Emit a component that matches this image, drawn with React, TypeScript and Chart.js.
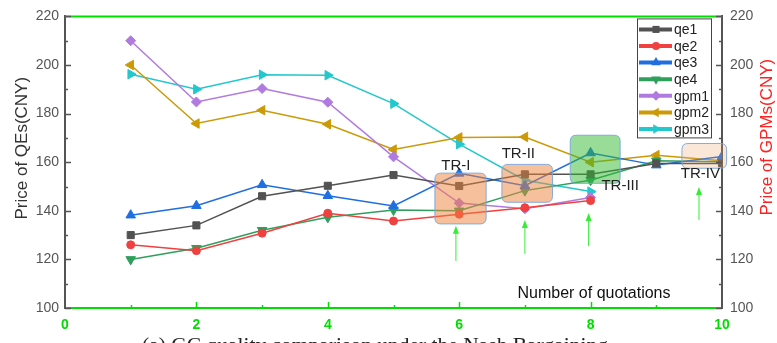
import React, { useEffect, useRef } from 'react';
import { Chart, registerables } from 'chart.js';

Chart.register(...registerables);

// ---------- data ----------
const quotations = [1, 2, 3, 4, 5, 6, 7, 8, 9, 10];
const qe1 = [130, 134, 146, 150.3, 154.7, 150.2, 155, 155, 159.5, 159.5];
const qe2 = [126, 123.6, 130.8, 139, 135.8, 138.6, 141.3, 144.2, null, null];
const qe3 = [138.2, 142.1, 150.7, 146.2, 142, 155.4, 150.3, 163.8, 158.8, 162.3];
const qe4 = [120, 124.6, 132, 137.3, 140.3, 140, 148.3, 152.6, 160.6, 160.2];
const gpm1 = [210, 184.8, 190.3, 184.7, 162.2, 143.2, 140.8, 145.5, null, null];
const gpm2 = [200, 175.9, 181.4, 175.6, 165.2, 170.2, 170.4, 160, 162.9, 160.6];
const gpm3 = [196.2, 190, 196, 195.8, 184.1, 167.4, 152.6, 147.9, null, null];

const seriesNames = ['qe1', 'qe2', 'qe3', 'qe4', 'gpm1', 'gpm2', 'gpm3'];
const seriesData = [qe1, qe2, qe3, qe4, gpm1, gpm2, gpm3];
const seriesColors = ['#525252', '#f04040', '#1f6fe0', '#2ea05c', '#b07ae0', '#cc9a06', '#22c8cc'];
const seriesStyles = ['rect', 'circle', 'triangle', 'triangle', 'rectRot', 'triangle', 'triangle'];
const seriesRotations = [0, 0, 0, 180, 0, 270, 90];
const seriesRadii = [5, 4, 5.5, 5.5, 5, 5.5, 5.5];

const xTickValues = [0, 2, 4, 6, 8, 10];
const yTickValues = [100, 120, 140, 160, 180, 200, 220];

// highlighted regions (data coordinates)
const regionLabels = ['TR-I', 'TR-II', 'TR-III', 'TR-IV'];
const regionX0 = [5.63, 6.65, 7.69, 9.39];
const regionX1 = [6.41, 7.42, 8.45, 10.07];
const regionY0 = [134.6, 143.5, 151.3, 157.5];
const regionY1 = [155.5, 159.1, 171.1, 167.7];
const regionFills = ['rgba(240,130,60,0.5)', 'rgba(240,130,60,0.5)', 'rgba(50,185,50,0.5)', 'rgba(240,160,100,0.25)'];
const regionLabelX = [5.95, 6.9, 8.45, 9.67];
const regionLabelY = [158.4, 163.5, 150.1, 155.1];

// green arrows
const arrowX = [5.95, 7.0, 7.97, 9.65];
const arrowBase = [119.4, 122.3, 125.5, 136.2];
const arrowTip = [133.8, 136.2, 139.1, 149.8];

function drawMarker(ctx: CanvasRenderingContext2D, style: string, x: number, y: number, r: number, rot: number) {
  ctx.save();
  ctx.translate(x, y);
  ctx.rotate((rot * Math.PI) / 180);
  ctx.beginPath();
  if (style === 'circle') {
    ctx.arc(0, 0, r, 0, Math.PI * 2);
  } else if (style === 'rect') {
    const s = r * Math.SQRT1_2;
    ctx.rect(-s, -s, 2 * s, 2 * s);
  } else if (style === 'rectRot') {
    ctx.moveTo(0, -r);
    ctx.lineTo(r, 0);
    ctx.lineTo(0, r);
    ctx.lineTo(-r, 0);
    ctx.closePath();
  } else {
    for (let i = 0; i < 3; i++) {
      const a = (i * 2 * Math.PI) / 3;
      const px = Math.sin(a) * r;
      const py = -Math.cos(a) * r;
      if (i === 0) ctx.moveTo(px, py);
      else ctx.lineTo(px, py);
    }
    ctx.closePath();
  }
  ctx.fill();
  ctx.restore();
}

function roundRect(ctx: CanvasRenderingContext2D, x: number, y: number, w: number, h: number, r: number) {
  ctx.beginPath();
  ctx.moveTo(x + r, y);
  ctx.lineTo(x + w - r, y);
  ctx.quadraticCurveTo(x + w, y, x + w, y + r);
  ctx.lineTo(x + w, y + h - r);
  ctx.quadraticCurveTo(x + w, y + h, x + w - r, y + h);
  ctx.lineTo(x + r, y + h);
  ctx.quadraticCurveTo(x, y + h, x, y + h - r);
  ctx.lineTo(x, y + r);
  ctx.quadraticCurveTo(x, y, x + r, y);
  ctx.closePath();
}

const FONT = '"Liberation Sans", Arial, sans-serif';
const GREEN = '#00dd00';
const AXIS = '#555555';

const decor = {
  id: 'decor',
  afterDatasetsDraw(chart: any) {
    const { ctx, chartArea: a, scales } = chart;
    const x = scales.x;
    const y = scales.y;
    ctx.save();
    // regions
    for (let i = 0; i < regionLabels.length; i++) {
      const px0 = x.getPixelForValue(regionX0[i]);
      const px1 = x.getPixelForValue(regionX1[i]);
      const py0 = y.getPixelForValue(regionY1[i]);
      const py1 = y.getPixelForValue(regionY0[i]);
      roundRect(ctx, px0, py0, px1 - px0, py1 - py0, 6);
      ctx.fillStyle = regionFills[i];
      ctx.fill();
      ctx.strokeStyle = 'rgba(120,165,220,0.9)';
      ctx.lineWidth = 1;
      ctx.stroke();
    }
    ctx.fillStyle = '#222';
    ctx.font = '15px ' + FONT;
    ctx.textAlign = 'center';
    ctx.textBaseline = 'middle';
    for (let i = 0; i < regionLabels.length; i++) {
      ctx.fillText(regionLabels[i], x.getPixelForValue(regionLabelX[i]), y.getPixelForValue(regionLabelY[i]));
    }
    // arrows
    ctx.strokeStyle = '#33ee33';
    ctx.fillStyle = '#33ee33';
    ctx.lineWidth = 1;
    for (let i = 0; i < arrowX.length; i++) {
      const px = x.getPixelForValue(arrowX[i]);
      const pb = y.getPixelForValue(arrowBase[i]);
      const pt = y.getPixelForValue(arrowTip[i]);
      ctx.beginPath();
      ctx.moveTo(px, pb);
      ctx.lineTo(px, pt + 6);
      ctx.stroke();
      ctx.beginPath();
      ctx.moveTo(px, pt);
      ctx.lineTo(px - 3, pt + 8);
      ctx.lineTo(px + 3, pt + 8);
      ctx.closePath();
      ctx.fill();
    }
    // legend
    const lx = a.right - 85;
    const ly = a.top + 2;
    const lw = 74;
    const lh = 119;
    ctx.fillStyle = '#fff';
    ctx.fillRect(lx, ly, lw, lh);
    ctx.strokeStyle = '#444';
    ctx.lineWidth = 1;
    ctx.strokeRect(lx + 0.5, ly + 0.5, lw, lh);
    ctx.font = '14px ' + FONT;
    ctx.textAlign = 'left';
    ctx.textBaseline = 'middle';
    for (let i = 0; i < seriesNames.length; i++) {
      const ry = ly + 11 + i * 16.6;
      ctx.strokeStyle = seriesColors[i];
      ctx.lineWidth = 4;
      ctx.beginPath();
      ctx.moveTo(lx + 2, ry);
      ctx.lineTo(lx + 35, ry);
      ctx.stroke();
      ctx.fillStyle = seriesColors[i];
      drawMarker(ctx, seriesStyles[i], lx + 19, ry, seriesRadii[i], seriesRotations[i]);
      ctx.fillStyle = '#222';
      ctx.fillText(seriesNames[i], lx + 37, ry + 1);
    }
    ctx.restore();
  },
  afterDraw(chart: any) {
    const { ctx, chartArea: a, scales } = chart;
    const x = scales.x;
    const y = scales.y;
    ctx.save();
    // top border
    ctx.strokeStyle = GREEN;
    ctx.lineWidth = 2;
    ctx.beginPath();
    ctx.moveTo(a.left, a.top);
    ctx.lineTo(a.right, a.top);
    ctx.stroke();
    // y ticks (inward)
    ctx.strokeStyle = AXIS;
    ctx.lineWidth = 1.5;
    for (let v = 100; v <= 220; v += 10) {
      const py = Math.round(y.getPixelForValue(v)) + 0.5;
      const len = v % 20 === 0 ? 6 : 3;
      ctx.beginPath();
      ctx.moveTo(a.left, py);
      ctx.lineTo(a.left + len, py);
      ctx.moveTo(a.right, py);
      ctx.lineTo(a.right - len, py);
      ctx.stroke();
    }
    // x ticks (inward)
    ctx.strokeStyle = GREEN;
    for (let v = 1; v < 10; v++) {
      const px = Math.round(x.getPixelForValue(v)) + 0.5;
      const len = v % 2 === 0 ? 6 : 3;
      ctx.beginPath();
      ctx.moveTo(px, a.bottom);
      ctx.lineTo(px, a.bottom - len);
      ctx.stroke();
    }
    // axis titles
    ctx.fillStyle = '#333';
    ctx.font = '17px ' + FONT;
    ctx.textAlign = 'center';
    ctx.textBaseline = 'middle';
    ctx.save();
    ctx.translate(22, (a.top + a.bottom) / 2 - 14);
    ctx.rotate(-Math.PI / 2);
    ctx.fillText('Price of QEs(CNY)', 0, 0);
    ctx.restore();
    ctx.fillStyle = '#ff2020';
    ctx.save();
    ctx.translate(767, (a.top + a.bottom) / 2 - 25);
    ctx.rotate(-Math.PI / 2);
    ctx.fillText('Price of GPMs(CNY)', 0, 0);
    ctx.restore();
    ctx.fillStyle = '#111';
    ctx.font = '16px ' + FONT;
    ctx.fillText('Number of quotations', a.right - 128, a.bottom - 14);
    // caption (cut off by the page edge)
    ctx.fillStyle = '#222';
    ctx.font = '21.5px "Liberation Serif", serif';
    ctx.textAlign = 'left';
    ctx.textBaseline = 'alphabetic';
    ctx.fillText('(a) GC quality comparison under the Nash Bargaining', 142, 352);
    ctx.restore();
  },
};

export default function App() {
  const ref = useRef<HTMLCanvasElement | null>(null);
  useEffect(() => {
    document.body.style.margin = '0';
    const canvas = ref.current;
    if (!canvas) return;
    const chart = new Chart(canvas, {
      type: 'line',
      data: {
        labels: quotations,
        datasets: seriesNames.map((name, i) => ({
          label: name,
          data: quotations.map((q, j) => ({ x: q, y: seriesData[i][j] as any })),
          borderColor: seriesColors[i],
          backgroundColor: seriesColors[i],
          pointBackgroundColor: seriesColors[i],
          pointBorderColor: seriesColors[i],
          pointStyle: seriesStyles[i] as any,
          pointRotation: seriesRotations[i],
          pointRadius: seriesRadii[i],
          pointBorderWidth: 1,
          borderWidth: 1.5,
          tension: 0,
          spanGaps: false,
          fill: false,
        })),
      },
      options: {
        animation: false,
        responsive: false,
        parsing: true,
        layout: { padding: { top: 16, left: 0, right: 0, bottom: 0 } },
        plugins: { legend: { display: false }, tooltip: { enabled: false } },
        scales: {
          x: {
            type: 'linear',
            min: 0,
            max: 10,
            afterFit: (s: any) => { s.height = 35; },
            afterBuildTicks: (s: any) => { s.ticks = xTickValues.map((v) => ({ value: v })); },
            grid: { display: false, drawTicks: false },
            border: { display: true, color: GREEN, width: 2 },
            ticks: { color: GREEN, font: { family: FONT, size: 14, weight: 'bold' }, padding: 9, maxRotation: 0 },
          },
          y: {
            type: 'linear',
            position: 'left',
            min: 100,
            max: 220,
            afterFit: (s: any) => { s.width = 65; },
            afterBuildTicks: (s: any) => { s.ticks = yTickValues.map((v) => ({ value: v })); },
            grid: { display: false, drawTicks: false },
            border: { display: true, color: AXIS, width: 2 },
            ticks: { color: '#555', font: { family: FONT, size: 14 }, padding: 6 },
          },
          y1: {
            type: 'linear',
            position: 'right',
            min: 100,
            max: 220,
            afterFit: (s: any) => { s.width = 55; },
            afterBuildTicks: (s: any) => { s.ticks = yTickValues.map((v) => ({ value: v })); },
            grid: { display: false, drawTicks: false },
            border: { display: true, color: AXIS, width: 2 },
            ticks: { color: '#555', font: { family: FONT, size: 14 }, padding: 8 },
          },
        },
      } as any,
      plugins: [decor],
    });
    return () => chart.destroy();
  }, []);
  return (
    <canvas
      ref={ref}
      width={777}
      height={343}
      style={{ display: 'block', position: 'fixed', left: 0, top: 0, width: 777, height: 343 }}
    />
  );
}
